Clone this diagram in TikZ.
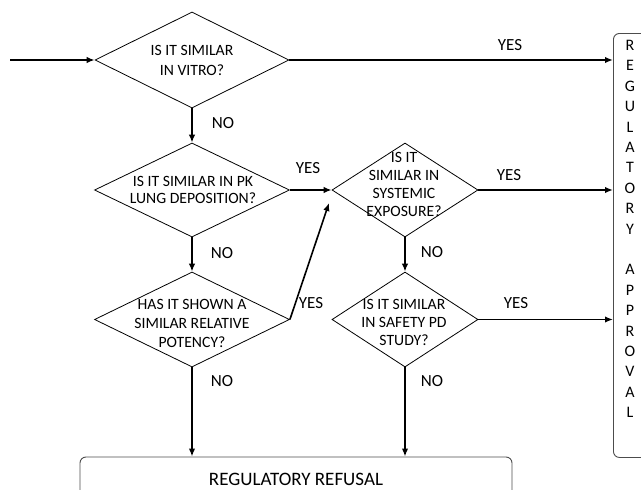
\documentclass[tikz,border=0pt]{standalone}
\usepackage{fontspec}
\setmainfont{Carlito}
\usetikzlibrary{shapes.geometric,arrows.meta}

\tikzset{
  decision/.style={diamond, draw, line width=0.8pt, inner sep=0pt},
  qtext/.style={align=center, inner sep=0pt, font=\fontsize{15.7}{18}\selectfont},
  answer/.style={inner sep=0pt, font=\fontsize{17}{20}\selectfont},
  flow/.style={-{Latex[length=8pt,width=6.5pt]}, line width=1.6pt},
  outcome/.style={draw=black!70, line width=0.9pt, rounded corners=6pt, inner sep=0pt},
}

\begin{document}
\begin{tikzpicture}[x=1pt,y=-1pt]
    \useasboundingbox (0,0) rectangle (641,490);
    \clip (0,0) rectangle (641,490);

    % Decision diamonds
    \node[decision, minimum width=194pt, minimum height=96pt] (vitro) at (192,60) {};
    \node[decision, minimum width=195pt, minimum height=94pt] (pk) at (192,190) {};
    \node[decision, minimum width=146pt, minimum height=94pt] (systemic) at (405,190) {};
    \node[decision, minimum width=195pt, minimum height=95pt] (potency) at (192,319.5) {};
    \node[decision, minimum width=146pt, minimum height=95pt] (safety) at (405,319.5) {};

    % Questions
    \node[qtext, font=\fontsize{15.7}{20}\selectfont] (vitrotext) at (192,60) {IS IT SIMILAR\\IN VITRO?};
    \node[qtext, font=\fontsize{15.7}{16.7}\selectfont] (pktext) at (193,190) {IS IT SIMILAR IN PK\\LUNG DEPOSITION?};
    \node[qtext] (systemictext) at (404,184) {IS IT\\SIMILAR IN\\SYSTEMIC\\EXPOSURE?};
    \node[qtext, font=\fontsize{15.7}{19}\selectfont] (potencytext) at (192,323) {HAS IT SHOWN A\\SIMILAR RELATIVE\\POTENCY?};
    \node[qtext] (safetytext) at (404,322) {IS IT SIMILAR\\IN SAFETY PD\\STUDY?};

    % Outcomes
    \node[outcome, anchor=north west, minimum width=60pt, minimum height=424pt] (approval) at (613,33) {};
    \node[anchor=north, align=center, inner sep=0pt, font=\fontsize{16}{20.4}\selectfont] (approvaltext) at (630,40)
        {R\\E\\G\\U\\L\\A\\T\\O\\R\\Y\\[20.4pt]A\\P\\P\\R\\O\\V\\A\\L};
    \node[outcome, minimum width=432pt, minimum height=45pt, font=\fontsize{19}{22}\selectfont] (refusal) at (296,479.5)
        {REGULATORY REFUSAL};

    % Connectors
    \coordinate (start) at (10,60);
    \coordinate (potencyend) at (329,203);
    \draw[flow] (start) -- (vitro.west);
    \draw[flow] (vitro.east) -- (vitro.east -| approval.west);
    \draw[flow] (vitro.south) -- (pk.north);
    \draw[flow] (pk.east) -- (systemic.west);
    \draw[flow] (systemic.east) -- (systemic.east -| approval.west);
    \draw[flow] (pk.south) -- (potency.north);
    \draw[flow] (systemic.south) -- (safety.north);
    \draw[flow] (potency.east) -- (potencyend);
    \draw[flow] (safety.east) -- (safety.east -| approval.west);
    \draw[flow] (potency.south) -- (potency.south |- refusal.north);
    \draw[flow] (safety.south) -- (safety.south |- refusal.north);

    % Answers
    \node[answer] (yes1) at (510,45) {YES};
    \node[answer] (no1) at (223,123) {NO};
    \node[answer] (yes2) at (308,168) {YES};
    \node[answer] (yes3) at (509,175) {YES};
    \node[answer] (no2) at (222,253) {NO};
    \node[answer] (no3) at (432,252) {NO};
    \node[answer] (yes4) at (311,303) {YES};
    \node[answer] (yes5) at (516,303) {YES};
    \node[answer] (no4) at (222,381) {NO};
    \node[answer] (no5) at (432,381) {NO};
\end{tikzpicture}
\end{document}
